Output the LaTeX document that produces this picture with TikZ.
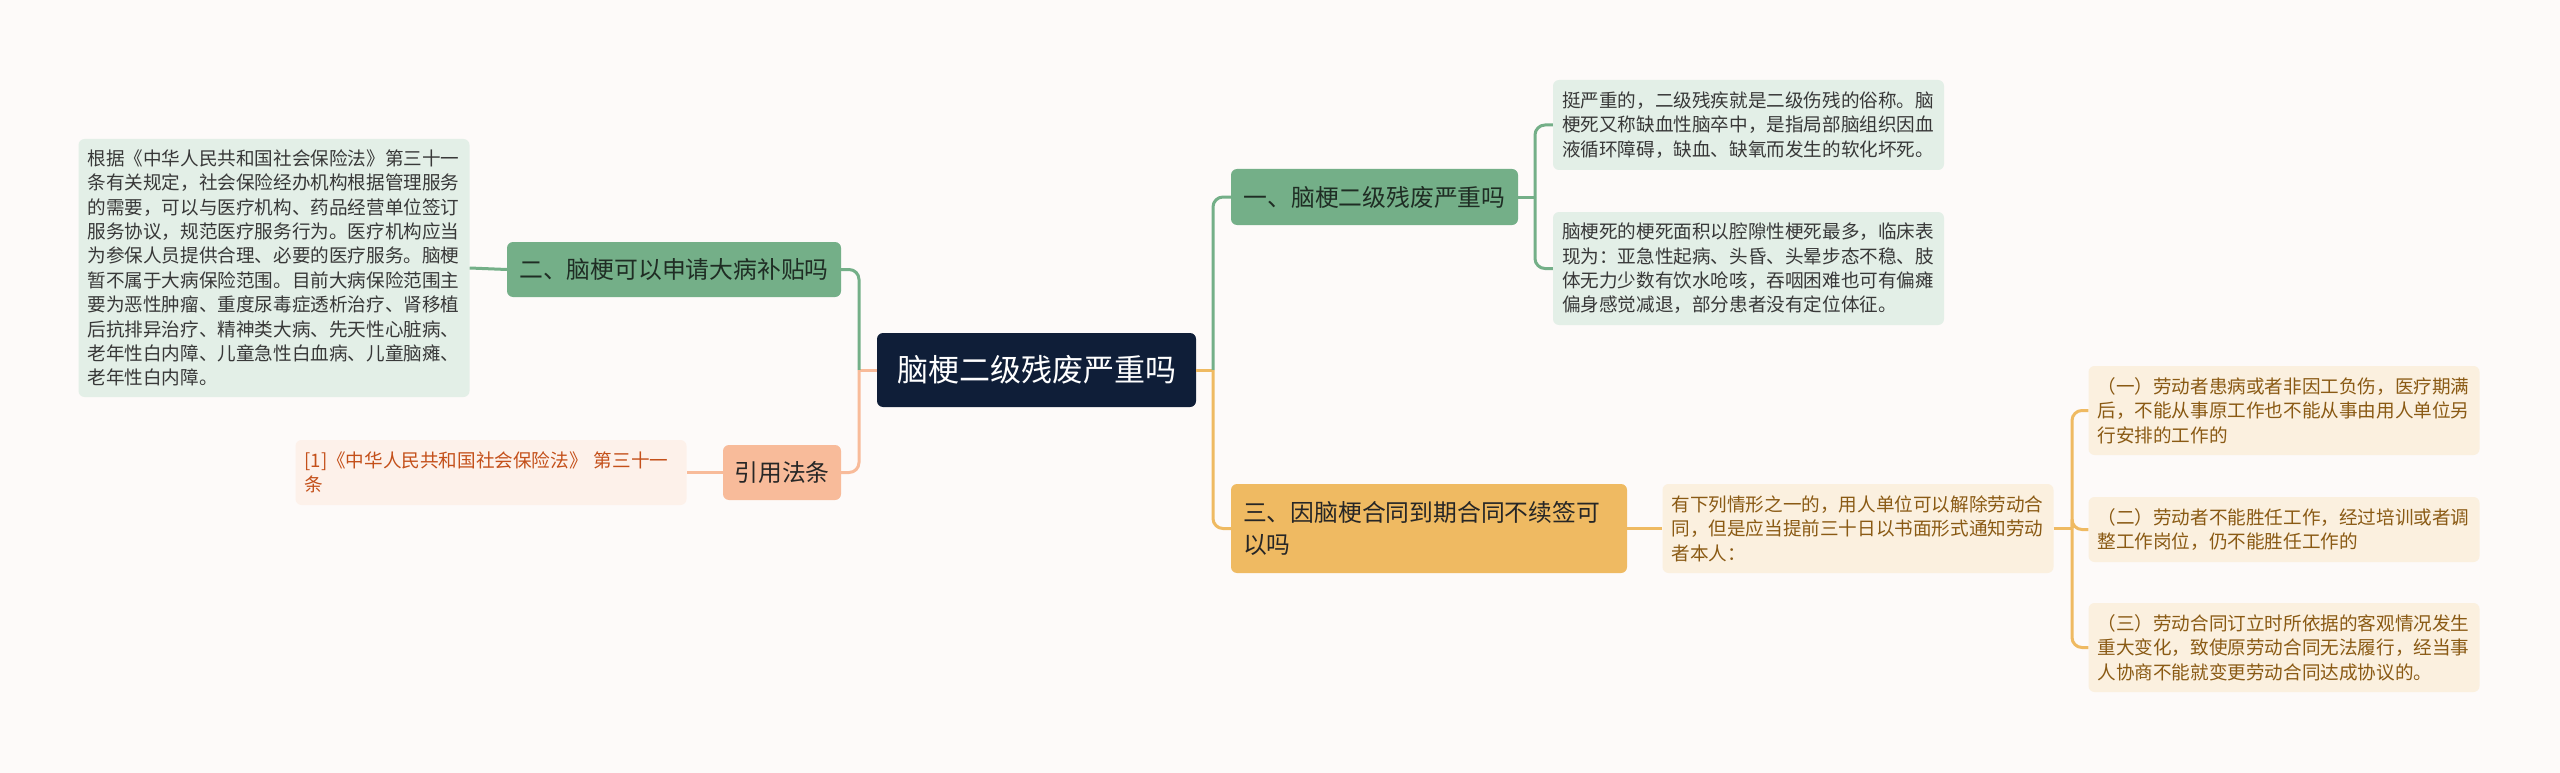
\documentclass[tikz,border=0pt]{standalone}
\usepackage{fontspec}
\setmainfont{Noto Sans CJK SC}
\usepackage{xcolor}
\usepackage{tikz}
\usetikzlibrary{positioning,calc}

\definecolor{bgc}{HTML}{FDFAF9}
\definecolor{rootc}{HTML}{0F1E38}
\definecolor{grn}{HTML}{74AF88}
\definecolor{grnleaf}{HTML}{E3EFE7}
\definecolor{grntxt}{HTML}{1F2D24}
\definecolor{org}{HTML}{EFBA62}
\definecolor{orgleaf}{HTML}{FBF0DF}
\definecolor{orgtxt}{HTML}{8A5A14}
\definecolor{pch}{HTML}{F8BB9A}
\definecolor{pchleaf}{HTML}{FDF1EA}
\definecolor{pchtxt}{HTML}{C4501A}

\begin{document}
\begin{tikzpicture}[x=1pt,y=-1pt,
  rootbox/.style={fill=rootc,text=white,rounded corners=6pt,inner sep=0pt,
    font=\fontsize{31}{36}\selectfont},
  topic/.style={rounded corners=6pt,inner sep=0pt,font=\fontsize{23.8}{32}\selectfont},
  gtopic/.style={topic,fill=grn,text=grntxt},
  otopic/.style={topic,fill=org,text=black!85},
  ptopic/.style={topic,fill=pch,text=black!85},
  leaf/.style={rounded corners=6pt,align=left,text width=373pt,inner xsep=9pt,
    inner ysep=0pt,font=\fontsize{18.6}{24.4}\selectfont},
  gleaf/.style={leaf,fill=grnleaf,text=black!78},
  oleaf/.style={leaf,fill=orgleaf,text=orgtxt},
  pleaf/.style={leaf,fill=pchleaf,text=pchtxt},
  ln/.style={line width=3pt,rounded corners=10pt}]
 \useasboundingbox[fill=bgc] (0,0) rectangle (2560,773);
 % centre and main topics
 \node[rootbox,minimum width=319pt,minimum height=74pt] (root) at (1036.5,370) {脑梗二级残废严重吗};
 \node[gtopic,minimum width=287pt,minimum height=56pt] (t1) at (1374.5,197) {一、脑梗二级残废严重吗};
 \node[gtopic,minimum width=334pt,minimum height=55pt] (t2) at (674,269.5) {二、脑梗可以申请大病补贴吗};
 \node[otopic,minimum width=396pt,minimum height=89pt,text width=372pt,align=left] (t3) at (1429,528.5)
   {三、因脑梗合同到期合同不续签可\\以吗};
 \node[ptopic,minimum width=118pt,minimum height=55pt] (cite) at (782,472.5) {引用法条};
 % leaves
 \node[gleaf,minimum height=258pt] (ll) at (274,268) {根据《中华人民共和国社会保险法》第三十一\\
   条有关规定，社会保险经办机构根据管理服务\\的需要，可以与医疗机构、药品经营单位签订\\
   服务协议，规范医疗服务行为。医疗机构应当\\为参保人员提供合理、必要的医疗服务。脑梗\\
   暂不属于大病保险范围。目前大病保险范围主\\要为恶性肿瘤、重度尿毒症透析治疗、肾移植\\
   后抗排异治疗、精神类大病、先天性心脏病、\\老年性白内障、儿童急性白血病、儿童脑瘫、\\
   老年性白内障。};
 \node[pleaf,minimum height=65pt] (lc) at (491,472.5) {[1]《中华人民共和国社会保险法》 第三十一\\条};
 \node[gleaf,minimum height=90pt] (la) at (1748.5,125) {挺严重的，二级残疾就是二级伤残的俗称。脑\\
   梗死又称缺血性脑卒中，是指局部脑组织因血\\液循环障碍，缺血、缺氧而发生的软化坏死。};
 \node[gleaf,minimum height=113pt] (lb) at (1748.5,268.5) {脑梗死的梗死面积以腔隙性梗死最多，临床表\\
   现为：亚急性起病、头昏、头晕步态不稳、肢\\体无力少数有饮水呛咳，吞咽困难也可有偏瘫\\
   偏身感觉减退，部分患者没有定位体征。};
 \node[oleaf,minimum height=89pt] (lm) at (1858,528.5) {有下列情形之一的，用人单位可以解除劳动合\\
   同，但是应当提前三十日以书面形式通知劳动\\者本人：};
 \node[oleaf,minimum height=89pt] (l1) at (2284,410.5) {（一）劳动者患病或者非因工负伤，医疗期满\\
   后，不能从事原工作也不能从事由用人单位另\\行安排的工作的};
 \node[oleaf,minimum height=65pt] (l2) at (2284,529.5) {（二）劳动者不能胜任工作，经过培训或者调\\
   整工作岗位，仍不能胜任工作的};
 \node[oleaf,minimum height=89pt] (l3) at (2284,647.5) {（三）劳动合同订立时所依据的客观情况发生\\
   重大变化，致使原劳动合同无法履行，经当事\\人协商不能就变更劳动合同达成协议的。};
 % junctions
 \coordinate (jL) at (859,370);
 \coordinate (jR) at (1213,370);
 \coordinate (j1) at (1535,197);
 \coordinate (j3) at (2072,528.5);
 % connectors
 \draw[ln,pch] (root.west) -- (jL);
 \draw[ln,org] (root.east) -- (jR);
 \draw[ln,grn] (t1.east) -- (j1);
 \draw[ln,org] (lm.east) -- (j3);
 \foreach \a/\b/\c in {jL/t2.east/grn,jL/cite.east/pch,jR/t1.west/grn,jR/t3.west/org,
   j1/la.west/grn,j1/lb.west/grn,j3/l1.west/org,j3/l2.west/org,j3/l3.west/org}
   \draw[ln,\c] (\a) |- (\b);
 \foreach \a/\b/\c in {t2/ll/grn,cite/lc/pch}
   \draw[ln,\c] (\a.west) -- (\b.east);
 \draw[ln,org] (t3.east) -- (lm.west);
\end{tikzpicture}
\end{document}
